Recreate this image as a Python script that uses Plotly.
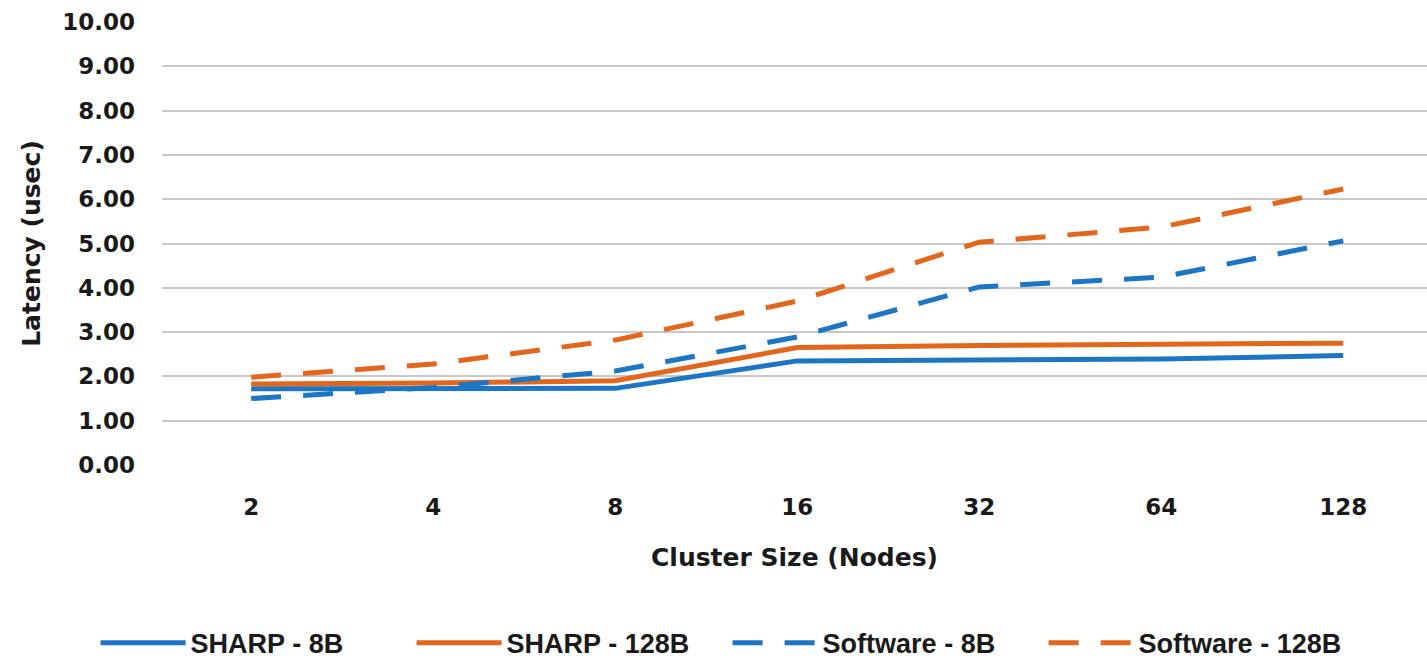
import plotly.graph_objects as go

# Cluster sizes (nodes) on the category axis
cluster_sizes = ["2", "4", "8", "16", "32", "64", "128"]

# Allreduce latency in microseconds
sharp_8b = [1.72, 1.72, 1.73, 2.35, 2.37, 2.39, 2.47]
sharp_128b = [1.83, 1.85, 1.90, 2.65, 2.70, 2.72, 2.75]
software_8b = [1.50, 1.75, 2.12, 2.89, 4.02, 4.24, 5.06]
software_128b = [1.98, 2.28, 2.82, 3.70, 5.03, 5.37, 6.23]

y_ticks = [0, 1, 2, 3, 4, 5, 6, 7, 8, 9, 10]

BLUE = "#1C76C4"
ORANGE = "#E2661C"
FONT = "DejaVu Sans"

series = [
    ("SHARP - 8B", sharp_8b, BLUE, "solid"),
    ("SHARP - 128B", sharp_128b, ORANGE, "solid"),
    ("Software - 8B", software_8b, BLUE, "30px,22px"),
    ("Software - 128B", software_128b, ORANGE, "30px,22px"),
]

fig = go.Figure()
for name, values, color, dash in series:
    fig.add_trace(go.Scatter(
        x=cluster_sizes, y=values, name=name, mode="lines",
        line=dict(color=color, width=5, dash=dash),
    ))

fig.update_layout(
    width=1427, height=663,
    margin=dict(l=162, r=0, t=22, b=198),
    paper_bgcolor="white", plot_bgcolor="white",
    font=dict(family=FONT, color="#1a1a1a"),
    showlegend=True,
    legend=dict(
        orientation="h", xref="container", yref="container",
        x=0.067, xanchor="left", y=0.03, yanchor="middle",
        itemwidth=85, entrywidth=216, entrywidthmode="pixels",
        font=dict(family="Liberation Sans", size=27, color="#1a1a1a", weight="bold"),
        traceorder="normal",
    ),
)

fig.update_xaxes(
    type="category", range=[-0.49, 6.46],
    showgrid=False, showline=False, zeroline=False, ticks="",
    tickfont=dict(family=FONT, size=23, color="#1a1a1a", weight="bold"),
    ticklabelstandoff=26,
    title=dict(text="Cluster Size (Nodes)", standoff=29,
               font=dict(family=FONT, size=25, color="#1a1a1a", weight="bold")),
)

fig.update_yaxes(
    range=[0, 10], tickvals=y_ticks, tickformat=".2f",
    showgrid=True, gridcolor="#C8C8C8", gridwidth=2,
    zeroline=False, showline=False, ticks="",
    tickfont=dict(family=FONT, size=23, color="#1a1a1a", weight="bold"),
    ticklabelstandoff=26,
    title=dict(text="Latency (usec)", standoff=14,
               font=dict(family=FONT, size=25, color="#1a1a1a", weight="bold")),
)

fig.write_html("out.html")
